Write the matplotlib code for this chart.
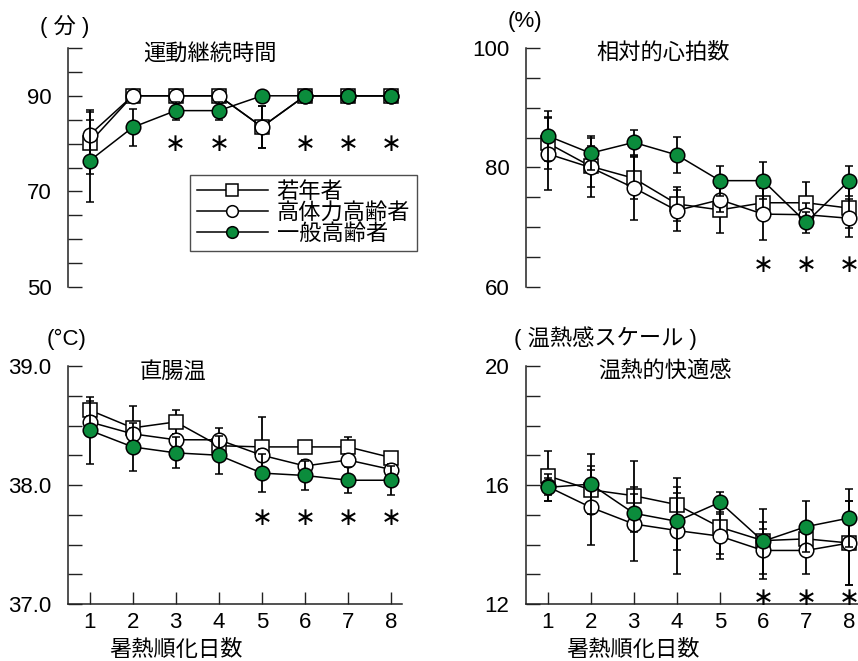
import matplotlib
matplotlib.use("Agg")
import matplotlib.pyplot as plt
import numpy as np

plt.rcParams['font.family'] = ['Liberation Sans', 'Noto Sans CJK JP', 'DejaVu Sans']

days = [1, 2, 3, 4, 5, 6, 7, 8]
groups = ["若年者", "高体力高齢者", "一般高齢者"]

# 運動継続時間 (分)
time_young = [80.2, 90, 90, 90, 83.5, 90, 90, 90]
time_young_err = [6.5, 0, 0, 0, 4.4, 0, 0, 0]
time_fit = [81.8, 90, 90, 90, 83.5, 90, 90, 90]
time_fit_err = [5.2, 0, 0, 0, 4.4, 0, 0, 0]
time_gen = [76.4, 83.4, 86.9, 86.9, 90, 90, 90, 90]
time_gen_err = [8.6, 3.8, 1.9, 1.9, 0, 0, 0, 0]
time_sig = [3, 4, 6, 7, 8]

# 相対的心拍数 (%)
hr_young = [84.1, 80.2, 78.2, 73.9, 72.9, 74.1, 74.1, 73.2]
hr_young_err = [4.4, 3.4, 3.5, 2.8, 3.9, 2.5, 3.4, 3.4]
hr_fit = [82.3, 80.0, 76.6, 72.8, 74.6, 72.2, 72.1, 71.5]
hr_fit_err = [6.0, 4.9, 5.4, 3.5, 2.0, 4.4, 2.0, 3.2]
hr_gen = [85.3, 82.4, 84.2, 82.1, 77.8, 77.8, 70.8, 77.8]
hr_gen_err = [4.2, 2.9, 2.1, 3.0, 2.5, 3.1, 1.8, 2.5]
hr_sig = [6, 7, 8]

# 直腸温 (°C)
tre_young = [38.63, 38.48, 38.53, 38.33, 38.32, 38.32, 38.32, 38.23]
tre_young_err = [0.08, 0.18, 0.10, 0.05, 0.25, 0.05, 0.08, 0.05]
tre_fit = [38.53, 38.43, 38.38, 38.38, 38.25, 38.16, 38.21, 38.13]
tre_fit_err = [0.05, 0.05, 0.05, 0.10, 0.05, 0.05, 0.05, 0.05]
tre_gen = [38.46, 38.32, 38.27, 38.25, 38.10, 38.08, 38.04, 38.04]
tre_gen_err = [0.28, 0.20, 0.13, 0.16, 0.16, 0.12, 0.11, 0.12]
tre_sig = [5, 6, 7, 8]

# 温熱的快適感 (温熱感スケール)
tc_young = [16.31, 15.84, 15.64, 15.34, 14.58, 14.13, 14.19, 14.05]
tc_young_err = [0.84, 0.80, 1.15, 0.90, 0.90, 0.40, 0.40, 1.40]
tc_fit = [15.95, 15.25, 14.69, 14.47, 14.28, 13.80, 13.80, 14.05]
tc_fit_err = [0.30, 1.26, 1.23, 1.46, 0.76, 0.95, 0.80, 1.40]
tc_gen = [15.92, 16.03, 15.05, 14.78, 15.42, 14.11, 14.60, 14.89]
tc_gen_err = [0.45, 1.00, 0.64, 0.96, 0.33, 1.10, 0.85, 0.98]
tc_sig = [6, 7, 8]

GREEN = "#0b8c3c"
FS = 16
W, H = 858, 661


def fx(px):
    return px / W


def fy(py):
    return 1 - py / H


def panel(rect_px, ylim, ystep, ylabels, series, sig, sig_y, bottom):
    x0, top, x1, bot = rect_px
    ax = fig.add_axes([fx(x0), fy(bot), (x1 - x0) / W, (bot - top) / H])
    styles = [dict(marker='s', mfc='white', ms=10),
              dict(marker='o', mfc='white', ms=10.5),
              dict(marker='o', mfc=GREEN, ms=10.5)]
    handles = []
    for (y, e), st, lab, z in zip(series, styles, groups, [3, 4, 5]):
        c = ax.errorbar(days, y, yerr=e, color='black', mec='black', mew=1.1,
                        lw=1.1, elinewidth=1.3, capsize=2.8, capthick=1.3,
                        zorder=z, label=lab, **st)
        handles.append(c.lines[0])
    for d in sig:
        ax.text(d, sig_y, "∗", ha='center', va='center', fontsize=18,
                family='DejaVu Sans', zorder=6)
    ax.set_xlim(0.5, 8.25)
    ax.set_ylim(*ylim)
    ticks = np.arange(ylim[0], ylim[1] + ystep / 2, ystep)
    ax.set_yticks(ticks)
    ax.set_yticklabels([ylabels.get(round(v, 2), "") for v in ticks])
    for s in ['top', 'right']:
        ax.spines[s].set_visible(False)
    ax.spines['left'].set_linewidth(1.1)
    ax.spines['left'].set_color('#222222')
    ax.tick_params(axis='y', direction='in', length=10, width=1.0,
                   pad=12, labelsize=FS, color='#222222')
    if bottom:
        ax.spines['bottom'].set_linewidth(1.1)
        ax.spines['bottom'].set_color('#222222')
        ax.set_xticks(days)
        ax.tick_params(axis='x', direction='in', length=9, width=1.0,
                       pad=6, labelsize=FS, color='#222222')
    else:
        ax.spines['bottom'].set_visible(False)
        ax.set_xticks([])
    ax.set_facecolor('none')
    return ax, handles


fig = plt.figure(figsize=(W / 100, H / 100), dpi=100)

ax1, handles = panel((68, 48, 402, 287), (50, 100), 5, {50: "50", 70: "70", 90: "90"},
                     [(time_young, time_young_err), (time_fit, time_fit_err),
                      (time_gen, time_gen_err)], time_sig, 80, False)
ax2, _ = panel((526, 48, 860, 287), (60, 100), 5, {60: "60", 80: "80", 100: "100"},
               [(hr_young, hr_young_err), (hr_fit, hr_fit_err),
                (hr_gen, hr_gen_err)], hr_sig, 63.7, False)
ax3, _ = panel((68, 366, 402, 604), (37.0, 39.0), 0.25,
               {37.0: "37.0", 38.0: "38.0", 39.0: "39.0"},
               [(tre_young, tre_young_err), (tre_fit, tre_fit_err),
                (tre_gen, tre_gen_err)], tre_sig, 37.72, True)
ax4, _ = panel((526, 366, 860, 604), (12, 20), 1, {12: "12", 16: "16", 20: "20"},
               [(tc_young, tc_young_err), (tc_fit, tc_fit_err),
                (tc_gen, tc_gen_err)], tc_sig, 12.2, True)

leg = ax1.legend(handles=handles, labels=groups, loc='upper left',
                 bbox_to_anchor=(fx(190), fy(175)), bbox_transform=fig.transFigure,
                 frameon=True, fancybox=False, fontsize=FS, handlelength=3.2,
                 handletextpad=0.4, labelspacing=0.0, borderpad=0.3,
                 borderaxespad=0, markerscale=0.8)
leg.get_frame().set_edgecolor('#222222')
leg.get_frame().set_linewidth(1.0)
leg.set_zorder(10)

# units, titles, axis labels
fig.text(fx(65), fy(27), "( 分 )", ha='center', va='center', fontsize=FS)
fig.text(fx(525), fy(22), "(%)", ha='center', va='center', fontsize=FS)
fig.text(fx(67), fy(339), "(°C)", ha='center', va='center', fontsize=FS)
fig.text(fx(605), fy(338), "( 温熱感スケール )", ha='center', va='center', fontsize=FS)

fig.text(fx(210), fy(55), "運動継続時間", ha='center', va='center', fontsize=FS)
fig.text(fx(663), fy(53), "相対的心拍数", ha='center', va='center', fontsize=FS)
fig.text(fx(173), fy(372), "直腸温", ha='center', va='center', fontsize=FS)
fig.text(fx(665), fy(372), "温熱的快適感", ha='center', va='center', fontsize=FS)

fig.text(fx(176), fy(650), "暑熱順化日数", ha='center', va='center', fontsize=FS)
fig.text(fx(633), fy(650), "暑熱順化日数", ha='center', va='center', fontsize=FS)

fig.savefig("out.png", dpi=100)
